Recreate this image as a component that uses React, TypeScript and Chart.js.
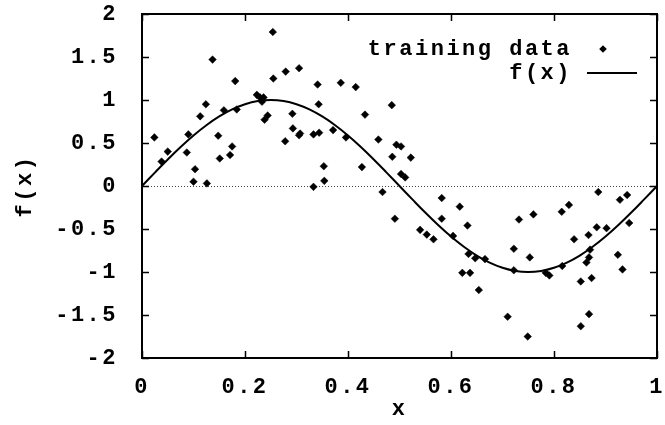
import React, { useEffect, useRef } from 'react';
import { Chart, registerables } from 'chart.js';

Chart.register(...registerables);

const trainX = [
  0.024, 0.038, 0.05, 0.087, 0.09, 0.103, 0.1, 0.126, 0.113, 0.124,
  0.137, 0.148, 0.159, 0.151, 0.171, 0.175, 0.181, 0.184, 0.223, 0.229,
  0.236, 0.233, 0.238, 0.244, 0.254, 0.255, 0.278, 0.279, 0.292, 0.293,
  0.305, 0.307, 0.305, 0.341, 0.386, 0.415, 0.343, 0.333, 0.344, 0.371,
  0.396, 0.433, 0.485, 0.459, 0.494, 0.503, 0.486, 0.522, 0.353, 0.427,
  0.503, 0.511, 0.354, 0.333, 0.467, 0.582, 0.491, 0.617, 0.582, 0.632,
  0.54, 0.553, 0.566, 0.604, 0.634, 0.647, 0.622, 0.637, 0.654, 0.666,
  0.71, 0.749, 0.722, 0.732, 0.76, 0.753, 0.722, 0.784, 0.791, 0.815,
  0.829, 0.816, 0.839, 0.852, 0.852, 0.868, 0.867, 0.87, 0.868, 0.863,
  0.873, 0.886, 0.883, 0.902, 0.924, 0.933, 0.928, 0.942, 0.946,
];
const trainY = [
  0.565, 0.284, 0.4, 0.39, 0.6, 0.195, 0.05, 0.03, 0.81, 0.95,
  1.47, 0.585, 0.88, 0.32, 0.36, 0.46, 1.22, 0.89, 1.06, 1.03,
  1.03, 0.98, 0.77, 0.82, 1.79, 1.25, 0.52, 1.33, 0.84, 0.67,
  0.59, 0.61, 1.37, 1.18, 1.2, 1.15, 0.95, 0.6, 0.62, 0.65,
  0.565, 0.83, 0.94, 0.54, 0.48, 0.46, 0.34, 0.33, 0.23, 0.22,
  0.14, 0.1, 0.06, -0.01, -0.07, -0.14, -0.38, -0.24, -0.38, -0.46,
  -0.51, -0.565, -0.62, -0.58, -0.79, -0.84, -1.01, -1.01, -1.21, -0.85,
  -1.52, -1.75, -0.73, -0.39, -0.33, -0.83, -0.98, -1.01, -1.04, -0.3,
  -0.22, -0.93, -0.62, -1.11, -1.63, -1.49, -0.57, -0.74, -0.83, -0.89,
  -1.07, -0.07, -0.48, -0.49, -0.8, -0.97, -0.16, -0.105, -0.43,
];

const curveX = [
  0, 0.025, 0.05, 0.075, 0.1, 0.125, 0.15, 0.175, 0.2, 0.225,
  0.25, 0.275, 0.3, 0.325, 0.35, 0.375, 0.4, 0.425, 0.45, 0.475,
  0.5, 0.525, 0.55, 0.575, 0.6, 0.625, 0.65, 0.675, 0.7, 0.725,
  0.75, 0.775, 0.8, 0.825, 0.85, 0.875, 0.9, 0.925, 0.95, 0.975, 1,
];
const curveY = [
  0, 0.156, 0.309, 0.454, 0.588, 0.707, 0.809, 0.891, 0.951, 0.988,
  1, 0.988, 0.951, 0.891, 0.809, 0.707, 0.588, 0.454, 0.309, 0.156,
  0, -0.156, -0.309, -0.454, -0.588, -0.707, -0.809, -0.891, -0.951, -0.988,
  -1, -0.988, -0.951, -0.891, -0.809, -0.707, -0.588, -0.454, -0.309, -0.156, 0,
];

const xTicks = [0, 0.2, 0.4, 0.6, 0.8, 1];
const yTicks = [-2, -1.5, -1, -0.5, 0, 0.5, 1, 1.5, 2];
const seriesLabels = ['training data', 'f(x)'];
const xTitle = 'x';
const yTitle = 'f(x)';

const FAMILY = "'Liberation Mono', 'DejaVu Sans Mono', monospace";
const FONT = { family: FAMILY, size: 22, weight: 'bold' as const, lineHeight: 1.2 };
const SPACING = '2.5px';

const framePlugin = {
  id: 'framePlugin',
  beforeLayout(chart: any) {
    (chart.ctx as any).letterSpacing = SPACING;
  },
  beforeDraw(chart: any) {
    (chart.ctx as any).letterSpacing = SPACING;
  },
  beforeDatasetsDraw(chart: any) {
    const { ctx, chartArea, scales } = chart;
    const y0 = scales.y.getPixelForValue(0);
    ctx.save();
    ctx.strokeStyle = '#444';
    ctx.lineWidth = 1;
    ctx.setLineDash([1, 2]);
    ctx.beginPath();
    ctx.moveTo(chartArea.left, y0 + 0.5);
    ctx.lineTo(chartArea.right, y0 + 0.5);
    ctx.stroke();
    ctx.restore();
  },
  afterDatasetsDraw(chart: any) {
    const { ctx, chartArea, scales } = chart;
    const { left, right, top, bottom } = chartArea;
    ctx.save();
    ctx.strokeStyle = '#000';
    ctx.lineWidth = 1.5;
    const tl = 7;
    ctx.beginPath();
    for (const v of xTicks) {
      const px = Math.round(scales.x.getPixelForValue(v)) + 0.5;
      ctx.moveTo(px, bottom);
      ctx.lineTo(px, bottom - tl);
      ctx.moveTo(px, top);
      ctx.lineTo(px, top + tl);
    }
    for (const v of yTicks) {
      const py = Math.round(scales.y.getPixelForValue(v)) + 0.5;
      ctx.moveTo(left, py);
      ctx.lineTo(left + tl, py);
      ctx.moveTo(right, py);
      ctx.lineTo(right - tl, py);
    }
    ctx.stroke();
    ctx.lineWidth = 2;
    ctx.strokeRect(left, top, right - left, bottom - top);

    // legend
    (ctx as any).letterSpacing = SPACING;
    ctx.font = `bold 22px ${FAMILY}`;
    ctx.fillStyle = '#000';
    ctx.textAlign = 'right';
    ctx.textBaseline = 'middle';
    const ds = chart.data.datasets;
    const textRight = 572;
    const row0 = 49;
    const rowH = 24;
    ctx.fillText(ds[0].label, textRight, row0);
    ctx.fillText(ds[1].label, textRight, row0 + rowH);
    const cx = 603;
    const r = 3.8;
    ctx.beginPath();
    ctx.moveTo(cx, row0 - r);
    ctx.lineTo(cx + r, row0);
    ctx.lineTo(cx, row0 + r);
    ctx.lineTo(cx - r, row0);
    ctx.closePath();
    ctx.fill();
    ctx.lineWidth = 2;
    ctx.beginPath();
    ctx.moveTo(587, row0 + rowH);
    ctx.lineTo(637, row0 + rowH);
    ctx.stroke();
    ctx.restore();
  },
};

export default function App() {
  const ref = useRef<HTMLCanvasElement | null>(null);

  useEffect(() => {
    document.body.style.margin = '0';
    const canvas = ref.current;
    if (!canvas) return;
    const chart = new Chart(canvas, {
      type: 'scatter',
      data: {
        datasets: [
          {
            label: seriesLabels[0],
            data: trainX.map((x, i) => ({ x, y: trainY[i] })),
            pointStyle: 'rectRot',
            pointRadius: 3.8,
            pointBackgroundColor: '#000',
            pointBorderColor: '#000',
            pointBorderWidth: 0.5,
            showLine: false,
            order: 1,
          },
          {
            label: seriesLabels[1],
            data: curveX.map((x, i) => ({ x, y: curveY[i] })),
            showLine: true,
            borderColor: '#000',
            borderWidth: 2,
            pointRadius: 0,
            tension: 0.4,
            fill: false,
            order: 2,
          } as any,
        ],
      },
      options: {
        responsive: false,
        animation: false,
        devicePixelRatio: 1,
        layout: { padding: { top: 14, right: 8, left: 0, bottom: 0 } },
        plugins: {
          legend: { display: false },
          tooltip: { enabled: false },
        },
        scales: {
          x: {
            type: 'linear',
            min: 0,
            max: 1,
            afterBuildTicks: (s: any) => {
              s.ticks = xTicks.map((v) => ({ value: v }));
            },
            afterFit: (s: any) => {
              s.height = 67;
              s.paddingLeft = 0;
              s.paddingRight = 0;
              s.paddingTop = 0;
              s.paddingBottom = 0;
            },
            grid: { display: false },
            border: { display: false },
            ticks: {
              padding: 8,
              color: '#000',
              font: FONT,
              maxRotation: 0,
              autoSkip: false,
              callback: (v: any) => String(v),
            },
            title: {
              display: true,
              text: xTitle,
              color: '#000',
              font: FONT,
              padding: { top: 0, bottom: 2 },
            },
          },
          y: {
            type: 'linear',
            min: -2,
            max: 2,
            afterBuildTicks: (s: any) => {
              s.ticks = yTicks.map((v) => ({ value: v }));
            },
            afterFit: (s: any) => {
              s.width = 142;
              s.paddingLeft = 0;
              s.paddingRight = 0;
              s.paddingTop = 0;
              s.paddingBottom = 0;
            },
            grid: { display: false },
            border: { display: false },
            ticks: {
              padding: 16,
              color: '#000',
              font: FONT,
              autoSkip: false,
              callback: (v: any) => String(v),
            },
            title: {
              display: true,
              text: yTitle,
              color: '#000',
              font: FONT,
              padding: { top: 12, bottom: 0 },
            },
          },
        },
      },
      plugins: [framePlugin],
    });
    return () => chart.destroy();
  }, []);

  return (
    <div style={{ width: 665, height: 425, background: '#fff' }}>
      <canvas ref={ref} width={665} height={425} style={{ display: 'block' }} />
    </div>
  );
}
